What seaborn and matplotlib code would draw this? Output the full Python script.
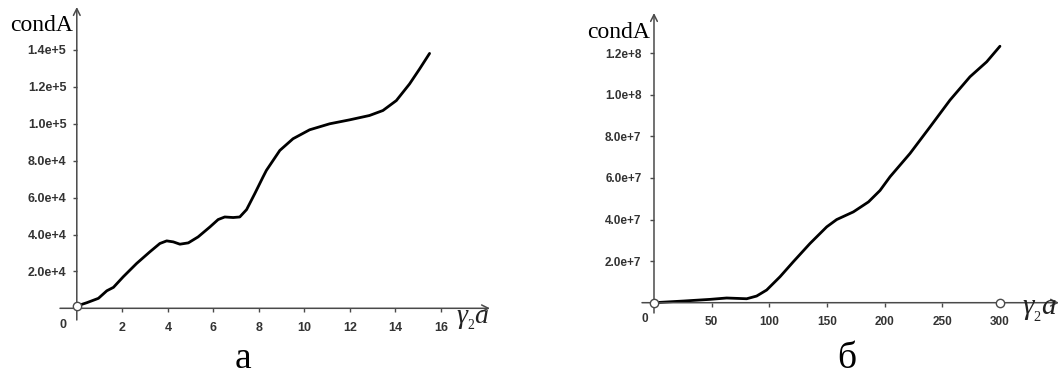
import matplotlib
matplotlib.use("Agg")
import matplotlib.pyplot as plt
import seaborn as sns
import pandas as pd

# ---- data -------------------------------------------------------------
left_x = [0, 0.44, 0.95, 1.32, 1.61, 2.04, 2.63, 3.21, 3.65, 3.95, 4.24, 4.53,
          4.9, 5.33, 5.85, 6.21, 6.5, 6.87, 7.16, 7.46, 7.82, 8.18, 8.33, 8.92,
          9.5, 10.23, 11.11, 11.99, 12.86, 13.45, 14.04, 14.62, 15.06, 15.5]
left_y = [1240, 3030, 5400, 9500, 11350, 17080, 24320, 30600, 35130, 36540,
          36000, 34750, 35460, 38700, 44100, 48100, 49500, 49200, 49500, 53500,
          62150, 71130, 74750, 85560, 91900, 96750, 100000, 102150, 104500,
          107200, 112600, 121600, 129700, 138150]

right_x = [0, 25.4, 48.6, 63, 80.4, 89, 97.7, 109.3, 120.8, 135.3, 149.8, 158.4,
           172.9, 186, 196, 204.7, 222, 239.4, 256.7, 274, 288.5, 300]
right_y = [0, 0.8e6, 1.6e6, 2.26e6, 1.9e6, 3.2e6, 6.1e6, 1.25e7, 1.97e7, 2.85e7,
           3.65e7, 4.0e7, 4.37e7, 4.85e7, 5.4e7, 6.06e7, 7.18e7, 8.46e7, 9.75e7,
           1.087e8, 1.159e8, 1.234e8]

left_xticks = [2, 4, 6, 8, 10, 12, 14, 16]
left_yticks = [2e4, 4e4, 6e4, 8e4, 1e5, 1.2e5, 1.4e5]
left_yticklabels = ["2.0e+4", "4.0e+4", "6.0e+4", "8.0e+4", "1.0e+5", "1.2e+5", "1.4e+5"]

right_xticks = [50, 100, 150, 200, 250, 300]
right_yticks = [2e7, 4e7, 6e7, 8e7, 1e8, 1.2e8]
right_yticklabels = ["2.0e+7", "4.0e+7", "6.0e+7", "8.0e+7", "1.0e+8", "1.2e+8"]

y_name = "condA"
x_name = r"$\gamma_{_{2}}a$"
panel_names = ["а", "б"]

# ---- style ------------------------------------------------------------
sns.set_theme(style="white")
plt.rcParams["font.family"] = ["Liberation Sans", "DejaVu Sans"]
plt.rcParams["mathtext.fontset"] = "custom"
plt.rcParams["mathtext.rm"] = "Liberation Serif"
plt.rcParams["mathtext.it"] = "Liberation Serif:italic"

W, H = 1061, 374
fig = plt.figure(figsize=(W / 100, H / 100), dpi=100)
fig.patch.set_facecolor("white")

AXIS_COLOR = "#4a4a4a"
TICK_TEXT = "#333333"


def px_rect(x0, y0, x1, y1):
    return [x0 / W, 1 - y1 / H, (x1 - x0) / W, (y1 - y0) / H]


def style_axes(ax, xlim, ylim, xticks, yticks, yticklabels, xpad, ypad, fs):
    ax.set_xlim(*xlim)
    ax.set_ylim(*ylim)
    ax.set_facecolor("none")
    for side in ("top", "right"):
        ax.spines[side].set_visible(False)
    for side in ("left", "bottom"):
        ax.spines[side].set_position(("data", 0))
        ax.spines[side].set_edgecolor("none")
    ax.set_xticks(xticks)
    ax.set_xticklabels([str(t) for t in xticks])
    ax.set_yticks(yticks)
    ax.set_yticklabels(yticklabels)
    ax.tick_params(axis="x", direction="out", length=3, width=1, color=AXIS_COLOR,
                   pad=xpad, labelsize=fs, labelcolor=TICK_TEXT, bottom=True)
    ax.tick_params(axis="y", direction="out", length=3, width=1, color=AXIS_COLOR,
                   pad=ypad, labelsize=fs, labelcolor=TICK_TEXT, left=True)
    for lab in ax.get_xticklabels() + ax.get_yticklabels():
        lab.set_fontweight("bold")
    ax.set_xlabel("")
    ax.set_ylabel("")
    # axis lines with open arrowheads
    arrow = dict(arrowstyle="->", color=AXIS_COLOR, lw=1.1,
                 shrinkA=0, shrinkB=0, mutation_scale=12)
    ax.annotate("", xy=(xlim[1], 0), xytext=(xlim[0], 0), arrowprops=arrow,
                annotation_clip=False)
    ax.annotate("", xy=(0, ylim[1]), xytext=(0, ylim[0]), arrowprops=arrow,
                annotation_clip=False)


# ---- left panel -------------------------------------------------------
axL = fig.add_axes(px_rect(60, 7, 490, 320))
dfL = pd.DataFrame({"x": left_x, "y": left_y})
sns.lineplot(data=dfL, x="x", y="y", ax=axL, color="black", lw=2.0,
             sort=False, estimator=None)
style_axes(axL, (-0.738, 18.155), (-6341, 163306), left_xticks, left_yticks,
           left_yticklabels, xpad=7, ypad=4.5, fs=9)
axL.plot([left_x[0]], [left_y[0]], marker="o", ms=6, mfc="white",
         mec=AXIS_COLOR, mew=1, clip_on=False, zorder=5)

# ---- right panel ------------------------------------------------------
axR = fig.add_axes(px_rect(642, 13, 1059, 313))
dfR = pd.DataFrame({"x": right_x, "y": right_y})
sns.lineplot(data=dfR, x="x", y="y", ax=axR, color="black", lw=2.0,
             sort=False, estimator=None)
style_axes(axR, (-10.4, 351.2), (-4.956e6, 1.3939e8), right_xticks, right_yticks,
           right_yticklabels, xpad=6.5, ypad=6, fs=8.5)
axR.plot([0, 300], [0, 0], ls="none", marker="o", ms=6, mfc="white",
         mec=AXIS_COLOR, mew=1, clip_on=False, zorder=5)

# ---- texts ------------------------------------------------------------
def ftext(x, y, s, **kw):
    fig.text(x / W, 1 - y / H, s, **kw)

bold_small = dict(fontweight="bold", color=TICK_TEXT, ha="center", va="center")
ftext(63, 325, "0", fontsize=9, **bold_small)
ftext(645, 319, "0", fontsize=8.5, **bold_small)

serif = ["Liberation Serif", "DejaVu Serif"]
ftext(10, 31, y_name, family=serif, fontsize=17, color="black", ha="left",
      va="baseline")
ftext(587, 38, y_name, family=serif, fontsize=17, color="black", ha="left",
      va="baseline")

ftext(456, 323, x_name, fontsize=20, color="#222222", ha="left", va="baseline")
ftext(1022, 315, x_name, fontsize=21, color="#222222", ha="left", va="baseline")

ftext(243, 368, panel_names[0], family=serif, fontsize=27, color="black",
      ha="center", va="baseline")
ftext(847, 368, panel_names[1], family=serif, fontsize=27, color="black",
      ha="center", va="baseline")

fig.savefig("out.png", dpi=100, facecolor="white")
